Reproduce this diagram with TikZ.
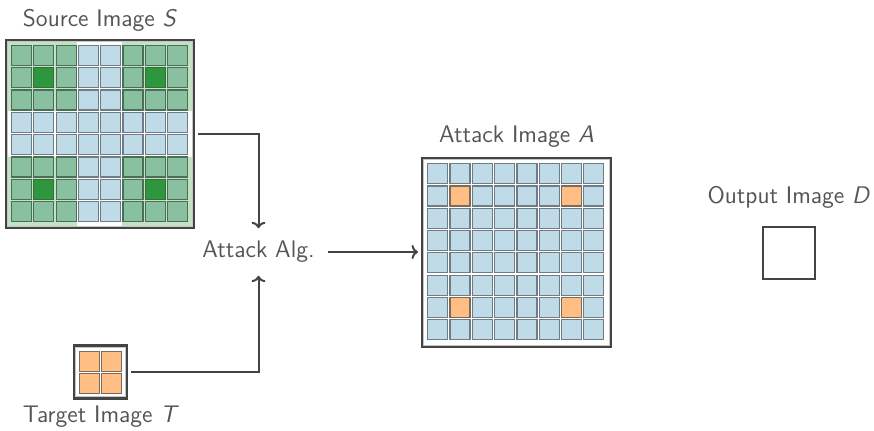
\documentclass[tikz,border=0pt]{standalone}
\usetikzlibrary{arrows.meta}
\definecolor{txtgray}{HTML}{555555}
\definecolor{linegray}{HTML}{444444}
\definecolor{cellblue}{HTML}{BFDBE8}
\definecolor{cellblueedge}{HTML}{6F7C86}
\definecolor{cellgreen}{HTML}{88C0A0}
\definecolor{cellgreenedge}{HTML}{4A6E58}
\definecolor{cellgreendark}{HTML}{2E963E}
\definecolor{cellgreendarkedge}{HTML}{3A6A40}
\definecolor{bggreen}{HTML}{C2E2C2}
\definecolor{cellorange}{HTML}{FFBE84}
\definecolor{cellorangeedge}{HTML}{7A6A5A}
\begin{document}
\begin{tikzpicture}[x=0.5pt,y=-0.5pt,
  lbl/.style={font=\sffamily\fontsize{12}{14}\selectfont, text=txtgray, inner sep=0pt},
  imgframe/.style={draw=linegray, line width=1.1pt, fill=white, minimum size=#1, inner sep=0pt, outer sep=2pt},
  innerline/.style={draw=gray!45, line width=0.5pt},
  cellB/.style={fill=cellblue, draw=cellblueedge, line width=0.6pt},
  cellG/.style={fill=cellgreen, draw=cellgreenedge, line width=0.6pt},
  cellD/.style={fill=cellgreendark, draw=cellgreendarkedge, line width=0.6pt},
  cellO/.style={fill=cellorange, draw=cellorangeedge, line width=0.6pt},
  arr/.style={draw=linegray, line width=1pt, -{To[length=3.2pt,width=7pt]}}
]
\useasboundingbox (0,0) rectangle (874,431);

% ---------- Source image S ----------
\node[imgframe=94pt] (S) at (100,134) {};
\fill[bggreen] (6,40) rectangle (77.3,111.3);
\fill[bggreen] (122.4,40) rectangle (194,111.3);
\fill[bggreen] (6,156.7) rectangle (77.3,228);
\fill[bggreen] (122.4,156.7) rectangle (194,228);
\draw[innerline] (7.5,41.5) rectangle (192.5,226.5);
\foreach \r in {0,...,7}{
  \foreach \c in {0,...,7}{
    \pgfmathtruncatemacro\isg{((\r<3)||(\r>4))&&((\c<3)||(\c>4))}
    \pgfmathtruncatemacro\isd{((\r==1)||(\r==6))&&((\c==1)||(\c==6))}
    \pgfmathsetmacro\cx{6+5.5+\c*22.3}
    \pgfmathsetmacro\cy{40+5.5+\r*22.3}
    \ifnum\isd=1
      \draw[cellD] (\cx,\cy) rectangle ++(20,20);
    \else\ifnum\isg=1
      \draw[cellG] (\cx,\cy) rectangle ++(20,20);
    \else
      \draw[cellB] (\cx,\cy) rectangle ++(20,20);
    \fi\fi
  }
}
\draw[draw=linegray, line width=1.1pt] (S.north west) ++(2pt,-2pt) rectangle ++(94pt,-94pt);
\node[lbl, anchor=base] (Slbl) at (100,27) {Source Image \textit{S}};

% ---------- Attack image A ----------
\node[imgframe=94.5pt] (A) at (516.5,252.5) {};
\draw[innerline] (423.5,159.5) rectangle (609.5,345.5);
\foreach \r in {0,...,7}{
  \foreach \c in {0,...,7}{
    \pgfmathtruncatemacro\iso{((\r==1)||(\r==6))&&((\c==1)||(\c==6))}
    \pgfmathsetmacro\cx{422+5.7+\c*22.3}
    \pgfmathsetmacro\cy{158+5.7+\r*22.3}
    \ifnum\iso=1
      \draw[cellO] (\cx,\cy) rectangle ++(20,20);
    \else
      \draw[cellB] (\cx,\cy) rectangle ++(20,20);
    \fi
  }
}
\node[lbl, anchor=base] (Albl) at (516.5,143) {Attack Image \textit{A}};

% ---------- Target image T ----------
\node[imgframe=26.5pt] (T) at (100.5,372) {};
\draw[innerline] (75.5,347.5) rectangle (125.5,396.5);
\foreach \r in {0,1}{
  \foreach \c in {0,1}{
    \pgfmathsetmacro\cx{74+5.5+\c*22.3}
    \pgfmathsetmacro\cy{346+5.5+\r*22.3}
    \draw[cellO] (\cx,\cy) rectangle ++(20,20);
  }
}
\node[lbl, anchor=base] (Tlbl) at (101,423) {Target Image \textit{T}};

% ---------- Output image D ----------
\node[imgframe=26pt] (D) at (789,253) {};
\node[lbl, anchor=base] (Dlbl) at (789,204) {Output Image \textit{D}};

% ---------- Attack algorithm ----------
\node[lbl, outer sep=6.5pt] (alg) at (258.5,252) {Attack Alg.};

\draw[arr] (S.east) -| (alg.north);
\draw[arr] (T.east) -| (alg.south);
\draw[arr] (alg.east) -- (alg.east -| A.west);
\end{tikzpicture}
\end{document}
